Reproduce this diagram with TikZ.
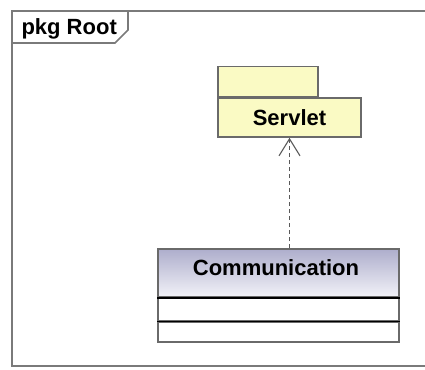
\documentclass[tikz,border=0pt]{standalone}
\usepackage{fontspec}
\setmainfont{Liberation Sans}
\usetikzlibrary{arrows.meta}
\definecolor{frameclr}{HTML}{7A7A7A}
\definecolor{boxclr}{HTML}{6A6A6A}
\definecolor{pkgfill}{HTML}{FAFAC4}
\definecolor{gradtop}{HTML}{AEAECC}
\definecolor{gradbot}{HTML}{F2F2F8}
\tikzset{
  lbl/.style={font=\fontsize{22}{24}\selectfont\bfseries, text=black},
  pkgbox/.style={draw=boxclr, fill=pkgfill, line width=1.6pt, inner sep=0pt},
  classname/.style={draw=boxclr, line width=1.6pt, top color=gradtop, bottom color=gradbot, inner sep=0pt, minimum width=241pt, minimum height=48pt},
  compart/.style={draw=boxclr, fill=white, line width=1.6pt, inner sep=0pt, minimum width=241pt},
  dep/.style={draw=black!65, line width=1.3pt, dash pattern=on 4pt off 3pt, -{Straight Barb[length=17pt,width=21pt,line width=1.1pt]}}
}
\begin{document}
\begin{tikzpicture}[x=1pt,y=-1pt]
\useasboundingbox (0,0) rectangle (425,369);
% frame
\draw[frameclr, line width=2pt] (425,11) -- (12,11) -- (12,366) -- (425,366);
\draw[frameclr, line width=1.6pt] (12,43) -- (115,43) -- (128,30) -- (128,11);
\node (title) [lbl, anchor=base west] at (18,35) {pkg Root};
% Servlet package
\node (servlet) [pkgbox, lbl, minimum width=143pt, minimum height=39pt] at (289.5,117.5) {Servlet};
\node (servlettab) [pkgbox, minimum width=100pt, minimum height=30pt, anchor=south west] at (servlet.north west) {};
% Communication class
\node (comm) [classname] at (278.5,273) {};
\node (commname) [lbl] at (276,268) {Communication};
\node (commattr) [compart, minimum height=22pt, anchor=north] at (comm.south) {};
\node (commops) [compart, minimum height=20pt, anchor=north] at (commattr.south) {};
\draw[black, line width=1.6pt] (commattr.north west) -- (commattr.north east);
\draw[black, line width=1.6pt] (commops.north west) -- (commops.north east);
% dependency
\draw[dep] (comm.north -| servlet.south) -- (servlet.south);
\end{tikzpicture}
\end{document}
